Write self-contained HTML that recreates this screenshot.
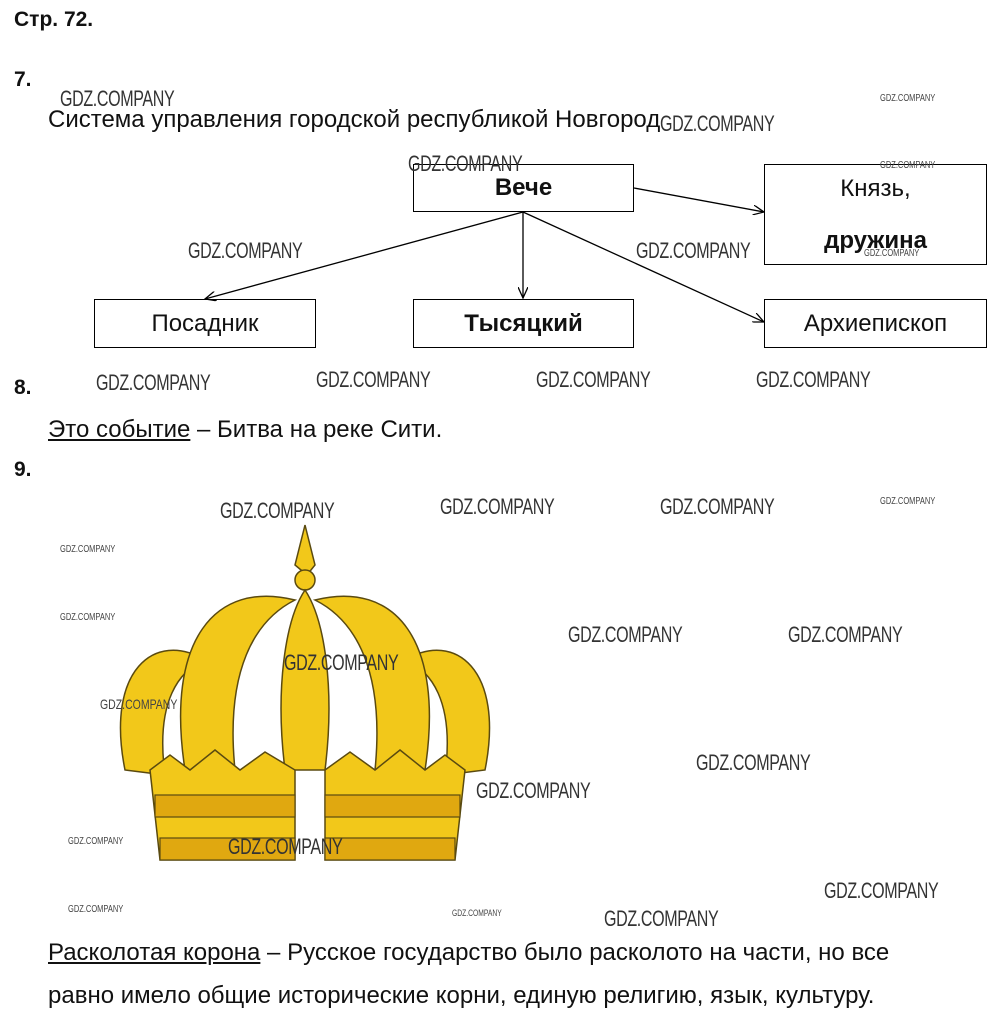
<!DOCTYPE html>
<html><head><meta charset="utf-8"><style>
body{margin:0;width:997px;height:1023px;background:#fff;position:relative;font-family:"Liberation Sans",Arial,sans-serif;color:#111;overflow:hidden}
.a{position:absolute;white-space:nowrap}
.b{font-weight:bold}
.box{position:absolute;border:1.5px solid #000;box-sizing:border-box;display:flex;align-items:center;justify-content:center;font-size:24px;text-align:center}
.w{position:absolute;white-space:nowrap;font-size:22px;color:#333;transform:scaleX(0.73);transform-origin:0 0;letter-spacing:-0.5px}
.ws{position:absolute;white-space:nowrap;font-size:10px;color:#444;transform:scaleX(0.75);transform-origin:0 0}
u{text-decoration:underline}
</style></head><body>
<div class="a b" style="left:14px;top:8px;font-size:21px">Стр. 72.</div>
<div class="a b" style="left:14px;top:68px;font-size:21px">7.</div>
<div class="a" style="left:48px;top:106px;font-size:24px">Система управления городской республикой Новгород</div>
<svg style="position:absolute;left:0;top:0" width="997" height="400">
<defs><marker id="m" markerWidth="12" markerHeight="10" refX="11" refY="5" orient="auto" markerUnits="userSpaceOnUse"><path d="M0,0 L11,5 L0,10" fill="none" stroke="#000" stroke-width="1.3"/></marker></defs>
<g stroke="#000" stroke-width="1.3" fill="none" marker-end="url(#m)">
<line x1="634" y1="188" x2="764" y2="212"/>
<line x1="523" y1="212" x2="205" y2="299"/>
<line x1="523" y1="212" x2="523" y2="298"/>
<line x1="523" y1="212" x2="764" y2="322"/>
</g></svg>
<div class="box b" style="left:413px;top:164px;width:221px;height:48px;align-items:flex-start;padding-top:9px">Вече</div>
<div class="box" style="left:764px;top:164px;width:223px;height:101px;flex-direction:column;line-height:24px"><span>Князь,</span><span style="margin-top:28px;font-weight:bold">дружина</span></div>
<div class="box" style="left:94px;top:299px;width:222px;height:49px">Посадник</div>
<div class="box b" style="left:413px;top:299px;width:221px;height:49px">Тысяцкий</div>
<div class="box" style="left:764px;top:299px;width:223px;height:49px">Архиепископ</div>
<div class="a b" style="left:14px;top:376px;font-size:21px">8.</div>
<div class="a" style="left:48px;top:416px;font-size:24px"><u>Это событие</u> – Битва на реке Сити.</div>
<div class="a b" style="left:14px;top:458px;font-size:21px">9.</div>
<svg style="position:absolute;left:95px;top:520px" width="420" height="355" viewBox="0 0 420 355">
<g fill="#f2c81a" stroke="#5a4a10" stroke-width="1.5">
<path d="M210,5 L220,45 L212,55 L200,45 Z"/>
<circle cx="210" cy="60" r="10"/>
<path d="M30,250 C10,150 60,110 110,140 C85,150 60,180 70,255 Z"/>
<path d="M390,250 C410,150 360,110 310,140 C335,150 360,180 350,255 Z"/>
<path d="M90,250 C70,120 120,60 200,80 C160,100 130,150 140,250 Z"/>
<path d="M330,250 C350,120 300,60 220,80 C260,100 290,150 280,250 Z"/>
<path d="M190,250 C180,170 190,100 210,70 C230,100 240,170 230,250 Z"/>
<path d="M55,250 L75,235 L95,250 L120,230 L145,250 L170,232 L200,250 L200,340 L65,340 Z"/>
<path d="M230,250 L255,232 L280,250 L305,230 L330,250 L350,235 L370,250 L360,340 L230,340 Z"/>
</g>
<g fill="#e0a810" stroke="#5a4a10" stroke-width="1.2">
<rect x="60" y="275" width="140" height="22"/><rect x="230" y="275" width="135" height="22"/>
<rect x="65" y="318" width="135" height="22"/><rect x="230" y="318" width="130" height="22"/>
</g>
</svg>
<div class="a" style="left:48px;top:939px;font-size:24px"><u>Расколотая корона</u> – Русское государство было расколото на части, но все</div>
<div class="a" style="left:48px;top:982px;font-size:24px">равно имело общие исторические корни, единую религию, язык, культуру.</div>
<div class="w" style="left:60px;top:86px">GDZ.COMPANY</div>
<div class="w" style="left:660px;top:111px">GDZ.COMPANY</div>
<div class="w" style="left:408px;top:151px">GDZ.COMPANY</div>
<div class="w" style="left:188px;top:238px">GDZ.COMPANY</div>
<div class="w" style="left:636px;top:238px">GDZ.COMPANY</div>
<div class="w" style="left:96px;top:370px">GDZ.COMPANY</div>
<div class="w" style="left:316px;top:367px">GDZ.COMPANY</div>
<div class="w" style="left:536px;top:367px">GDZ.COMPANY</div>
<div class="w" style="left:756px;top:367px">GDZ.COMPANY</div>
<div class="w" style="left:220px;top:498px">GDZ.COMPANY</div>
<div class="w" style="left:440px;top:494px">GDZ.COMPANY</div>
<div class="w" style="left:660px;top:494px">GDZ.COMPANY</div>
<div class="w" style="left:568px;top:622px">GDZ.COMPANY</div>
<div class="w" style="left:788px;top:622px">GDZ.COMPANY</div>
<div class="w" style="left:284px;top:650px">GDZ.COMPANY</div>
<div class="w" style="left:696px;top:750px">GDZ.COMPANY</div>
<div class="w" style="left:476px;top:778px">GDZ.COMPANY</div>
<div class="w" style="left:228px;top:834px">GDZ.COMPANY</div>
<div class="w" style="left:824px;top:878px">GDZ.COMPANY</div>
<div class="w" style="left:604px;top:906px">GDZ.COMPANY</div>
<div class="ws" style="left:880px;top:93px">GDZ.COMPANY</div>
<div class="ws" style="left:880px;top:160px">GDZ.COMPANY</div>
<div class="ws" style="left:864px;top:248px">GDZ.COMPANY</div>
<div class="ws" style="left:880px;top:496px">GDZ.COMPANY</div>
<div class="ws" style="left:60px;top:544px">GDZ.COMPANY</div>
<div class="ws" style="left:60px;top:612px">GDZ.COMPANY</div>
<div class="ws" style="left:100px;top:696px;font-size:14px">GDZ.COMPANY</div>
<div class="ws" style="left:68px;top:836px">GDZ.COMPANY</div>
<div class="ws" style="left:68px;top:904px">GDZ.COMPANY</div>
<div class="ws" style="left:452px;top:908px;font-size:9px">GDZ.COMPANY</div>
</body></html>
